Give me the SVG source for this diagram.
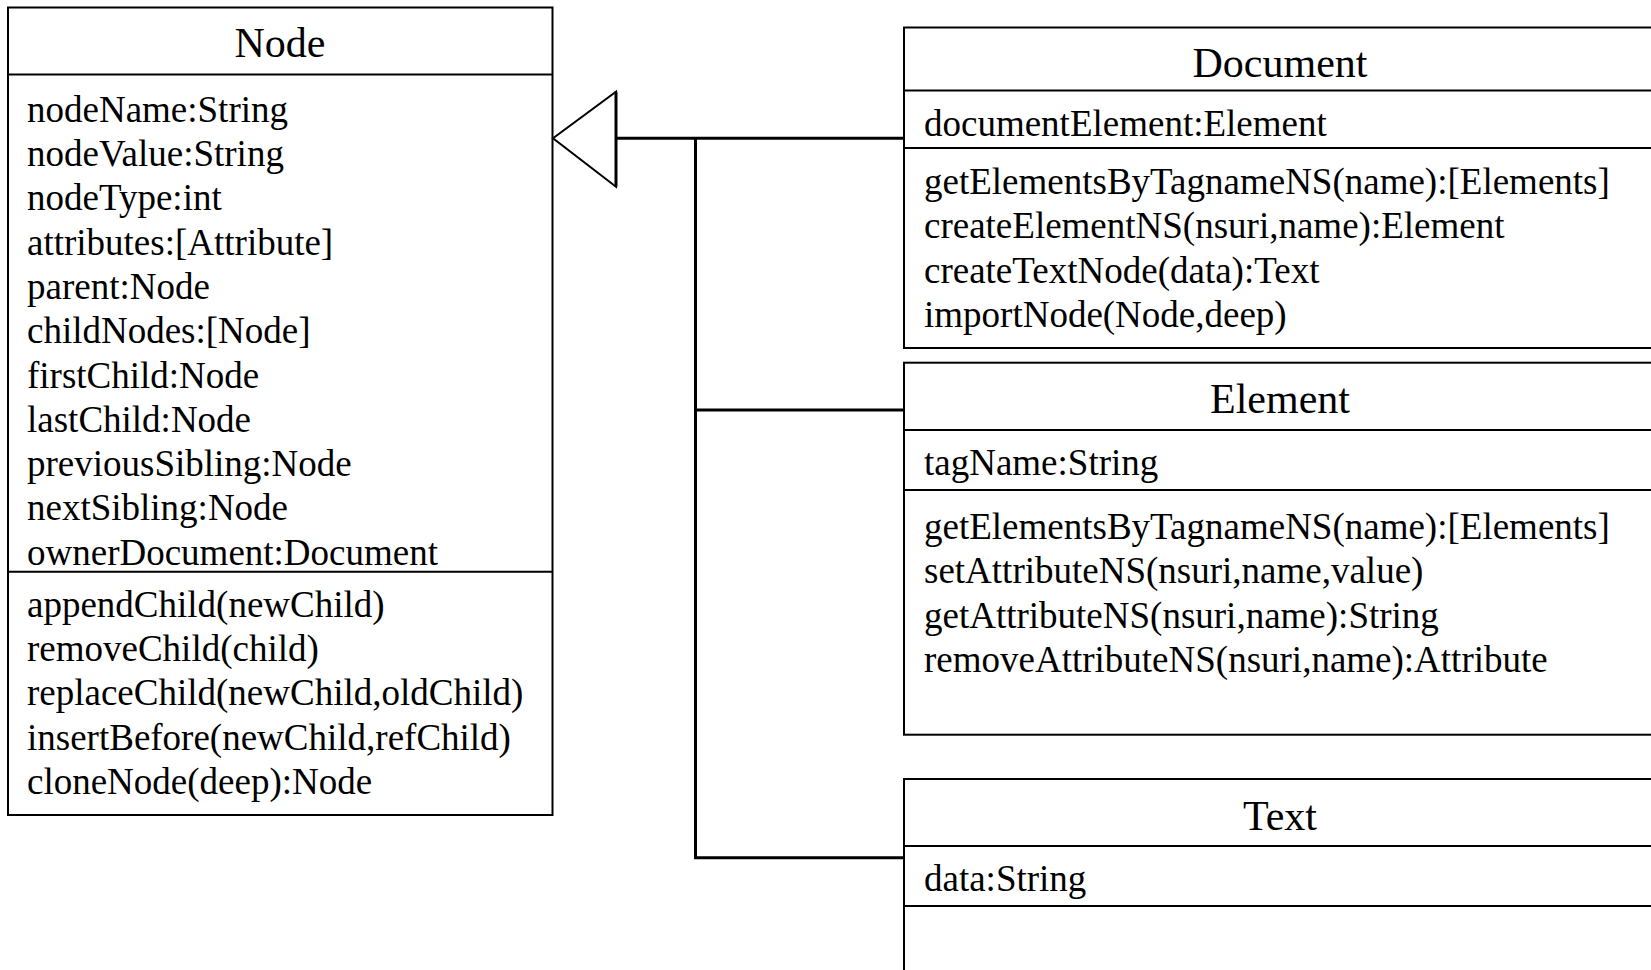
<svg xmlns="http://www.w3.org/2000/svg" width="1651" height="970" viewBox="0 0 1651 970">
  <style>
    .box { fill: #ffffff; stroke: #000000; stroke-width: 2; }
    .div { stroke: #000000; stroke-width: 2; fill: none; }
    .title { font-family: "Liberation Serif", "Times New Roman", serif; font-size: 42px; fill: #000000; text-anchor: middle; }
    .row { font-family: "Liberation Serif", "Times New Roman", serif; font-size: 37px; fill: #000000; }
    .wire { stroke: #000000; stroke-width: 3; fill: none; }
    .head { fill: #ffffff; stroke: #000000; stroke-width: 2; }
  </style>

  <rect x="0" y="0" width="1651" height="970" fill="#ffffff"/>

  <!-- Node base class -->
  <g id="node-Node">
    <rect class="box" x="8" y="7.5" width="544.5" height="807.5"/>
    <line class="div" x1="8" y1="74.5" x2="552.5" y2="74.5"/>
    <line class="div" x1="8" y1="571.7" x2="552.5" y2="571.7"/>
    <text class="title" x="280" y="57">Node</text>
    <text class="row" x="27" y="121.7">nodeName:String</text>
    <text class="row" x="27" y="166">nodeValue:String</text>
    <text class="row" x="27" y="210.3">nodeType:int</text>
    <text class="row" x="27" y="254.6">attributes:[Attribute]</text>
    <text class="row" x="27" y="298.9">parent:Node</text>
    <text class="row" x="27" y="343.2">childNodes:[Node]</text>
    <text class="row" x="27" y="387.5">firstChild:Node</text>
    <text class="row" x="27" y="431.8">lastChild:Node</text>
    <text class="row" x="27" y="476.1">previousSibling:Node</text>
    <text class="row" x="27" y="520.4">nextSibling:Node</text>
    <text class="row" x="27" y="564.7">ownerDocument:Document</text>
    <text class="row" x="27" y="616.7">appendChild(newChild)</text>
    <text class="row" x="27" y="661">removeChild(child)</text>
    <text class="row" x="27" y="705.3">replaceChild(newChild,oldChild)</text>
    <text class="row" x="27" y="749.6">insertBefore(newChild,refChild)</text>
    <text class="row" x="27" y="793.9">cloneNode(deep):Node</text>
  </g>

  <!-- Document -->
  <g id="node-Document">
    <rect class="box" x="904" y="27.5" width="753" height="320.5"/>
    <line class="div" x1="904" y1="90.5" x2="1657" y2="90.5"/>
    <line class="div" x1="904" y1="148" x2="1657" y2="148"/>
    <text class="title" x="1280" y="77">Document</text>
    <text class="row" x="924" y="135.5">documentElement:Element</text>
    <text class="row" x="924" y="194">getElementsByTagnameNS(name):[Elements]</text>
    <text class="row" x="924" y="238.3">createElementNS(nsuri,name):Element</text>
    <text class="row" x="924" y="282.6">createTextNode(data):Text</text>
    <text class="row" x="924" y="326.9">importNode(Node,deep)</text>
  </g>

  <!-- Element -->
  <g id="node-Element">
    <rect class="box" x="904" y="362.7" width="753" height="372"/>
    <line class="div" x1="904" y1="430" x2="1657" y2="430"/>
    <line class="div" x1="904" y1="490" x2="1657" y2="490"/>
    <text class="title" x="1280" y="413">Element</text>
    <text class="row" x="924" y="475">tagName:String</text>
    <text class="row" x="924" y="539">getElementsByTagnameNS(name):[Elements]</text>
    <text class="row" x="924" y="583.3">setAttributeNS(nsuri,name,value)</text>
    <text class="row" x="924" y="627.6">getAttributeNS(nsuri,name):String</text>
    <text class="row" x="924" y="671.9">removeAttributeNS(nsuri,name):Attribute</text>
  </g>

  <!-- Text -->
  <g id="node-Text">
    <rect class="box" x="904" y="779" width="753" height="230"/>
    <line class="div" x1="904" y1="846" x2="1657" y2="846"/>
    <line class="div" x1="904" y1="906" x2="1657" y2="906"/>
    <text class="title" x="1280" y="830">Text</text>
    <text class="row" x="924" y="891">data:String</text>
  </g>

  <!-- Generalization connectors: subclasses to Node -->
  <g id="connectors">
    <polyline class="wire" points="904,138.3 616,138.3"/>
    <polyline class="wire" points="695.5,138.3 695.5,857.7 904,857.7"/>
    <polyline class="wire" points="695.5,410 904,410"/>
    <polygon class="head" points="553,138.3 616,91.7 616,186.7"/>
    <line x1="616" y1="91.7" x2="616" y2="186.7" stroke="#000000" stroke-width="3"/>
  </g>
</svg>
